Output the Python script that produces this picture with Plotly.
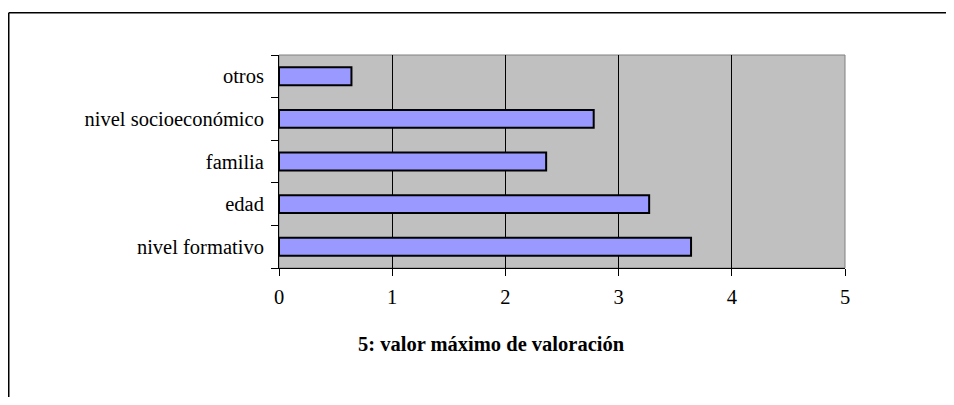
import plotly.graph_objects as go

categories = ["nivel formativo", "edad", "familia", "nivel socioeconómico", "otros"]
values = [3.64, 3.27, 2.36, 2.78, 0.64]
x_ticks = [0, 1, 2, 3, 4, 5]
x_title = "5: valor máximo de valoración"

# page has an 8px body margin, so the figure is shrunk and coordinates shifted by 8
OFF = 8
W, H = 954 - 2 * OFF, 405 - 2 * OFF
L, T = 279 - OFF, 55 - OFF
R = W - (845 - OFF)
B = H - (268 - OFF)
pw, ph = W - L - R, H - T - B

def px_x(p):
    return (p - OFF - L) / pw

def px_y(p):
    return (H - B - (p - OFF)) / ph

FAM = "Liberation Serif, Times New Roman, serif"
font = dict(family=FAM, size=20.5, color="#000000")

fig = go.Figure(go.Bar(
    x=values, y=categories, orientation="h",
    marker=dict(color="#9999FF", line=dict(color="#000000", width=2)),
))

fig.update_layout(
    width=W, height=H,
    margin=dict(l=L, r=R, t=T, b=B),
    paper_bgcolor="#FFFFFF",
    plot_bgcolor="#C0C0C0",
    showlegend=False,
    bargap=0.58,
    font=font,
    xaxis=dict(
        range=[0, 5], tickvals=x_ticks, ticktext=[str(v) for v in x_ticks],
        showgrid=True, gridcolor="#000000", gridwidth=1,
        zeroline=False, showline=True, linecolor="#000000", linewidth=1,
        ticks="outside", ticklen=7, tickcolor="#000000", tickfont=font,
        ticklabelstandoff=3, fixedrange=True,
    ),
    yaxis=dict(
        type="category", categoryorder="array", categoryarray=categories,
        showgrid=False, zeroline=False, showline=True, linecolor="#000000", linewidth=1,
        ticks="outside", ticklen=7, tickcolor="#000000", tickson="boundaries",
        tickfont=font, ticklabelstandoff=10, fixedrange=True,
    ),
    shapes=[
        dict(type="rect", xref="paper", yref="paper", x0=0, y0=0, x1=1, y1=1,
             line=dict(color="#808080", width=1), layer="below"),
        dict(type="line", xref="paper", yref="paper",
             x0=px_x(OFF + 0.75), y0=px_y(12.7), x1=px_x(960), y1=px_y(12.7),
             line=dict(color="#000000", width=1.5)),
        dict(type="line", xref="paper", yref="paper",
             x0=px_x(OFF + 0.75), y0=px_y(12.7), x1=px_x(OFF + 0.75), y1=px_y(420),
             line=dict(color="#000000", width=1.5)),
    ],
    annotations=[
        dict(text="<b>" + x_title + "</b>", xref="paper", yref="paper",
             x=px_x(491), y=px_y(344), xanchor="center", yanchor="middle", showarrow=False,
             font=dict(family=FAM, size=20.5, color="#000000")),
    ],
)

fig.write_html("out.html")
